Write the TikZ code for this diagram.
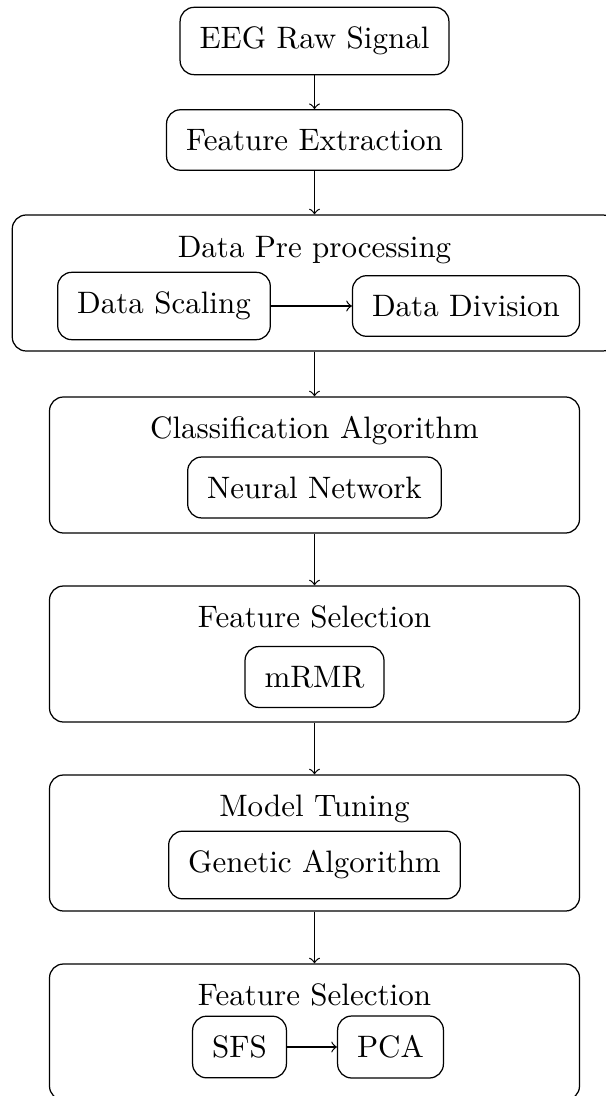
\documentclass[tikz,border=0pt]{standalone}
\begin{document}
\begin{tikzpicture}[x=0.32258pt, y=-0.32258pt,
  box/.style={draw, rounded corners=4.5pt, inner sep=6.3pt, align=center},
  stage/.style={draw, rounded corners=4.5pt, minimum width=170.97pt,
                minimum height=43.87pt, inner sep=0pt},
  caption/.style={inner sep=0pt, anchor=base},
  flow/.style={->}]
\useasboundingbox (0,0) rectangle (605,1096);

% first two steps
\node[box] (eeg) at (314.5,41) {EEG Raw Signal};
\node[box] (fe) at (314.5,140) {Feature Extraction};

% data pre processing stage
\node[stage, minimum width=195pt] (dp) at (314.5,283) {};
\node[caption] (dpt) at (314.5,257.3) {Data Pre processing};
\node[box] (ds) at (164,306) {Data Scaling};
\node[box] (dd) at (466,306) {Data Division};

% classification stage
\node[stage] (ca) at (314.5,465) {};
\node[caption] (cat) at (314.5,438.5) {Classification Algorithm};
\node[box] (nn) at (314.5,487.5) {Neural Network};

% first feature selection stage
\node[stage] (fsa) at (314.5,654) {};
\node[caption] (fsat) at (314.5,627.5) {Feature Selection};
\node[box] (mrmr) at (314.5,677) {mRMR};

% model tuning stage
\node[stage] (mt) at (314.5,843) {};
\node[caption] (mtt) at (314.5,816.5) {Model Tuning};
\node[box] (ga) at (314.5,865) {Genetic Algorithm};

% second feature selection stage
\node[stage] (fsb) at (314.5,1032) {};
\node[caption] (fsbt) at (314.5,1005.5) {Feature Selection};
\node[box] (sfs) at (239.5,1047) {SFS};
\node[box] (pca) at (390.5,1047) {PCA};

% connectors
\draw[flow] (eeg.south) -- (fe.north);
\draw[flow] (fe.south) -- (dp.north);
\draw[flow] (ds.east) -- (dd.west);
\draw[flow] (dp.south) -- (ca.north);
\draw[flow] (ca.south) -- (fsa.north);
\draw[flow] (fsa.south) -- (mt.north);
\draw[flow] (mt.south) -- (fsb.north);
\draw[flow] (sfs.east) -- (pca.west);
\end{tikzpicture}
\end{document}
